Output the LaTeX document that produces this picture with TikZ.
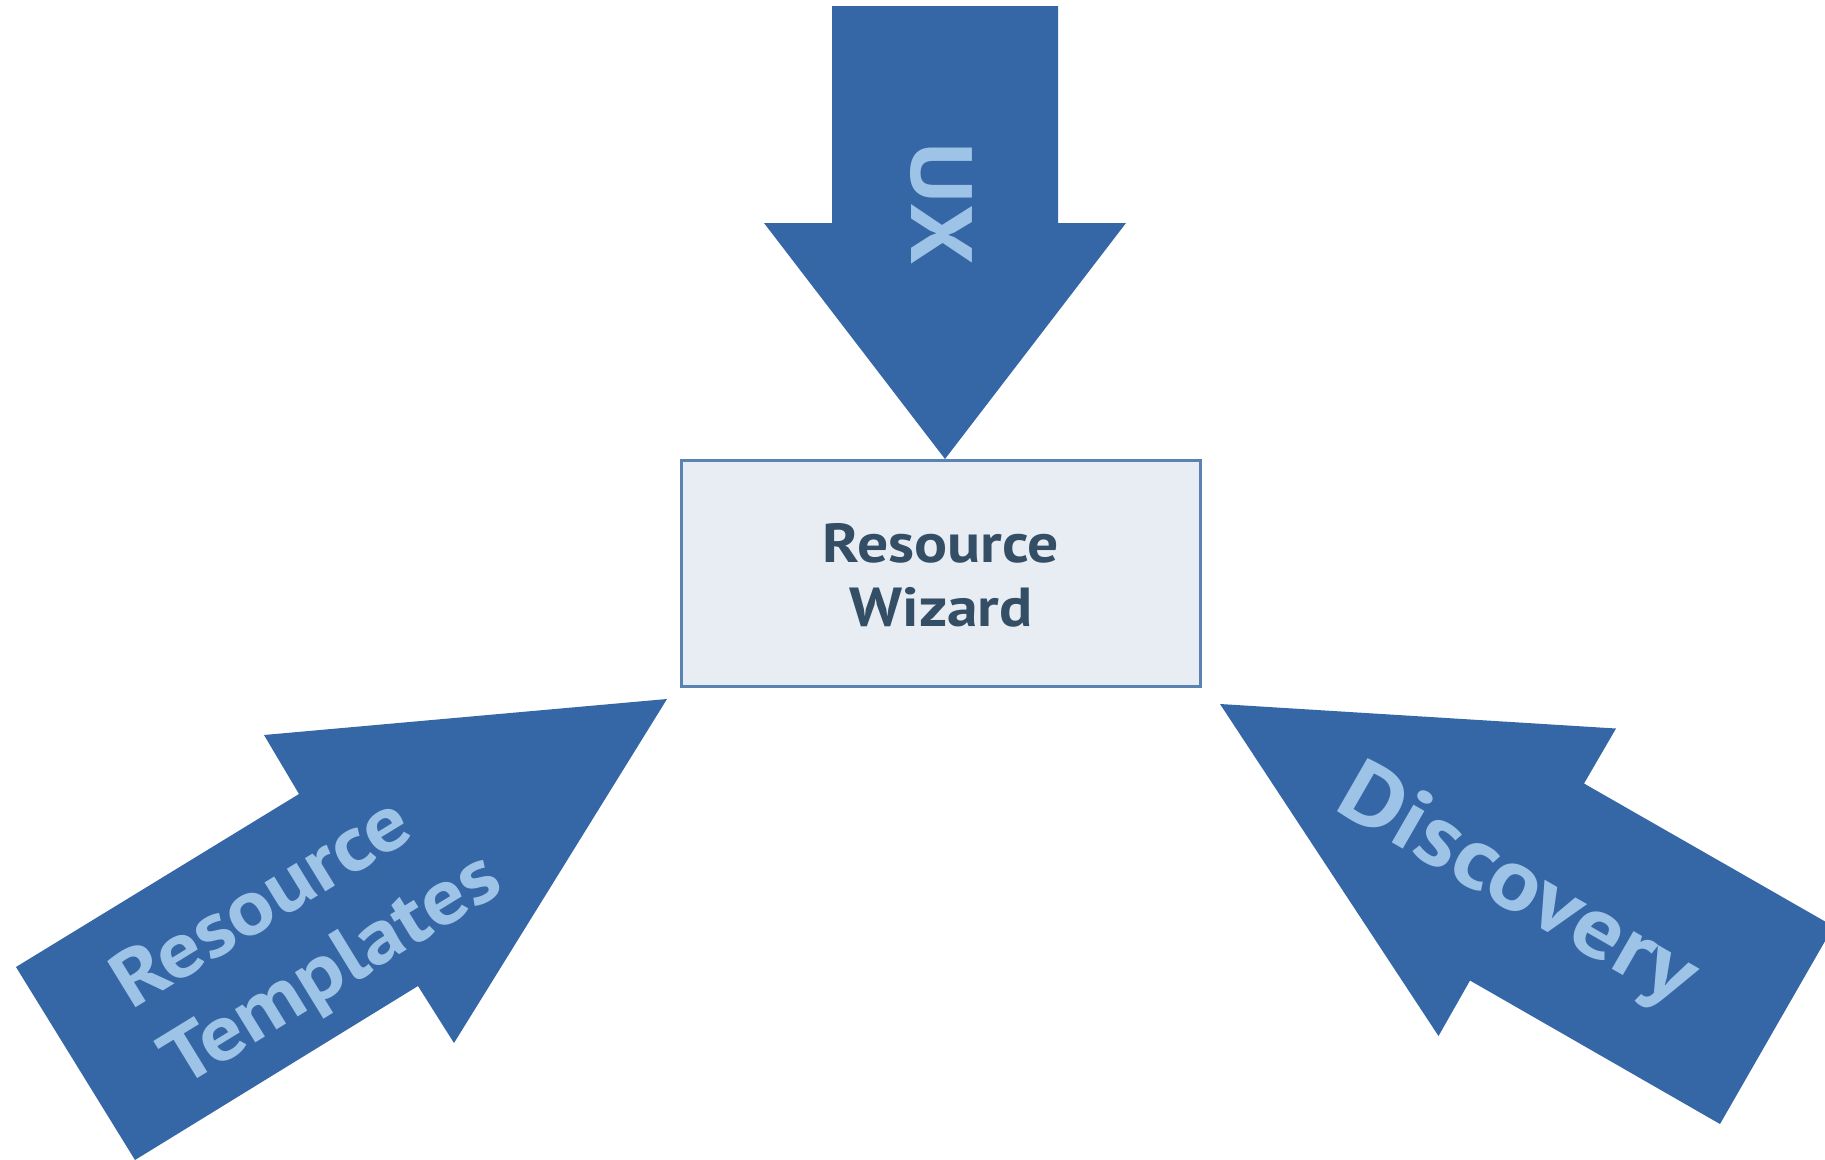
\documentclass[tikz,border=0pt]{standalone}
\usepackage{fontspec}
\setmainfont{PT Sans}
\newfontfamily\lblfont{PT Sans}[FakeStretch=1.12]
\definecolor{arrowblue}{HTML}{3566A5}
\definecolor{labelblue}{HTML}{9DC3E6}
\definecolor{boxfill}{HTML}{E8EDF4}
\definecolor{boxline}{HTML}{5A83B3}
\definecolor{boxtext}{HTML}{344E66}
\begin{document}
\begin{tikzpicture}[x=1pt,y=-1pt,
  bigarrow/.style={fill=arrowblue, draw=none},
  arrowlabel/.style={text=labelblue, inner sep=0pt, font=\lblfont\bfseries\fontsize{87}{100}\selectfont},
  templabel/.style={text=labelblue, inner sep=0pt, font=\lblfont\bfseries\fontsize{78}{90}\selectfont},
  boxlabel/.style={text=boxtext, inner sep=0pt, font=\lblfont\bfseries\fontsize{55}{64}\selectfont},
  wizardbox/.style={draw=boxline, line width=3pt, fill=boxfill, minimum width=519pt, minimum height=226pt, inner sep=0pt}]
\path[use as bounding box] (0,0) rectangle (1825,1159);
\clip (0,0) rectangle (1825,1159);
\fill[white] (0,0) rectangle (1825,1159);
% top arrow (UX)
\path[bigarrow] (832,6) -- (1058,6) -- (1058,223) -- (1126,223) -- (945,459) -- (764,223) -- (832,223) -- cycle;
% left arrow (Resource Templates)
\path[bigarrow] (667,699) -- (264,735) -- (299,794) -- (16,967) -- (135,1160) -- (418,986) -- (454,1043) -- cycle;
% right arrow (Discovery)
\path[bigarrow] (1220,704) -- (1616,728.5) -- (1584,783.5) -- (1833.5,926.3) -- (1720,1124) -- (1470,980.5) -- (1438.5,1036) -- cycle;
% central box
\node[wizardbox] (wizard) at (941,573.5) {};
\node[boxlabel, anchor=base] (rw1) at (941,562) {Resource};
\node[boxlabel, anchor=base] (rw2) at (941,626) {Wizard};
% arrow labels
\node[arrowlabel, rotate=-90] (ux) at (941.5,203.5) {UX};
\node[arrowlabel, rotate=-29.9, anchor=base west] (disc) at (1332,808) {Discovery};
\node[templabel, rotate=31.5, anchor=base west] (rt1) at (131,1011) {Resource};
\node[templabel, rotate=31.5, anchor=base west] (rt2) at (181,1089) {Templates};
\end{tikzpicture}
\end{document}
